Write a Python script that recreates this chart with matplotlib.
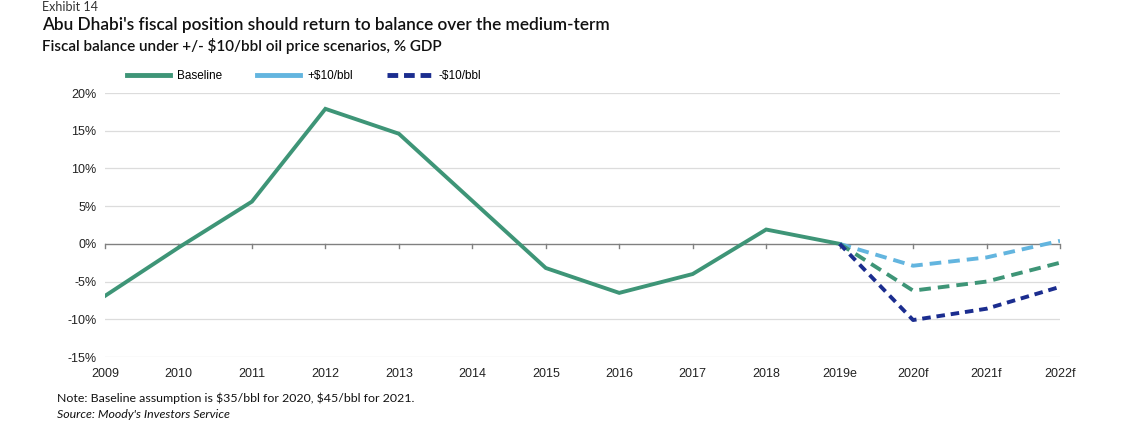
import matplotlib
matplotlib.use("Agg")
import matplotlib.pyplot as plt
from matplotlib.lines import Line2D

categories = ["2009", "2010", "2011", "2012", "2013", "2014", "2015", "2016",
              "2017", "2018", "2019e", "2020f", "2021f", "2022f"]
baseline_hist = [-6.9, -0.5, 5.6, 17.9, 14.6, 5.7, -3.2, -6.5, -4.0, 1.9, 0.0]
baseline_fcst = [0.0, -6.2, -5.0, -2.5]
plus10 = [0.0, -2.9, -1.8, 0.4]
minus10 = [0.0, -10.1, -8.6, -5.7]
yticks = [-15, -10, -5, 0, 5, 10, 15, 20]

GREEN = "#3e9577"
LBLUE = "#63b5df"
DBLUE = "#1b2d8f"

fig = plt.figure(figsize=(11.25, 4.37), dpi=100)
ax = fig.add_axes([105/1125, 1-357/437, (1060-105)/1125, (357-93)/437])

x_hist = list(range(len(baseline_hist)))
x_fc = list(range(len(baseline_hist)-1, len(categories)))

for y in yticks:
    if y != 0:
        ax.axhline(y, color="#dcdcdc", lw=0.9, zorder=0)
ax.axhline(0, color="#808080", lw=1.0, zorder=1)
for i in range(len(categories)):
    ax.plot([i, i], [0, -0.6], color="#808080", lw=1.0, zorder=1, clip_on=False)

ax.plot(x_hist, baseline_hist, color=GREEN, lw=2.8, zorder=3, solid_joinstyle="miter")
ax.plot(x_fc, plus10, color=LBLUE, lw=2.8, ls=(0, (3, 1.8)), zorder=3)
ax.plot(x_fc, baseline_fcst, color=GREEN, lw=2.8, ls=(0, (3, 1.8)), zorder=4)
ax.plot(x_fc, minus10, color=DBLUE, lw=2.8, ls=(0, (2.2, 1.5)), zorder=5)

ax.set_xlim(0, len(categories)-1)
ax.set_ylim(-15, 20)
for s in ax.spines.values():
    s.set_visible(False)
ax.set_yticks(yticks)
ax.set_yticklabels([f"{v}%" for v in yticks], fontsize=9, family="Liberation Sans", color="#222222")
ax.set_xticks(range(len(categories)))
ax.set_xticklabels(categories, fontsize=9, family="Liberation Sans", color="#222222")
ax.tick_params(axis="both", length=0, pad=6)
ax.tick_params(axis="x", pad=8)

handles = [Line2D([], [], color=GREEN, lw=3.5),
           Line2D([], [], color=LBLUE, lw=3.5),
           Line2D([], [], color=DBLUE, lw=3.5, ls=(0, (2.2, 1.2)))]
leg = fig.legend(handles, ["Baseline", "+$10/bbl", "-$10/bbl"], loc="center left",
                 bbox_to_anchor=(116/1125, 1-76/437), ncol=3, frameon=False,
                 prop={"family": "Liberation Sans", "size": 8.5},
                 handlelength=3.7, handletextpad=0.6, columnspacing=2.9)

fig.text(42/1125, 1-7/437, "Exhibit 14", fontsize=9, family="Lato", color="#333333", va="center")
fig.text(42/1125, 1-25/437, "Abu Dhabi's fiscal position should return to balance over the medium-term",
         fontsize=12.4, family="Lato", weight="semibold", color="#111111", va="center")
fig.text(42/1125, 1-46/437, "Fiscal balance under +/- \\$10/bbl oil price scenarios, % GDP",
         fontsize=11, family="Lato", weight="semibold", color="#111111", va="center")
fig.text(57/1125, 1-398/437, "Note: Baseline assumption is \\$35/bbl for 2020, \\$45/bbl for 2021.",
         fontsize=8.9, family="Lato", color="#111111", va="center")
fig.text(57/1125, 1-415/437, "Source: Moody's Investors Service",
         fontsize=8.9, family="Lato", style="italic", color="#111111", va="center")

fig.savefig("out.png", dpi=100)
